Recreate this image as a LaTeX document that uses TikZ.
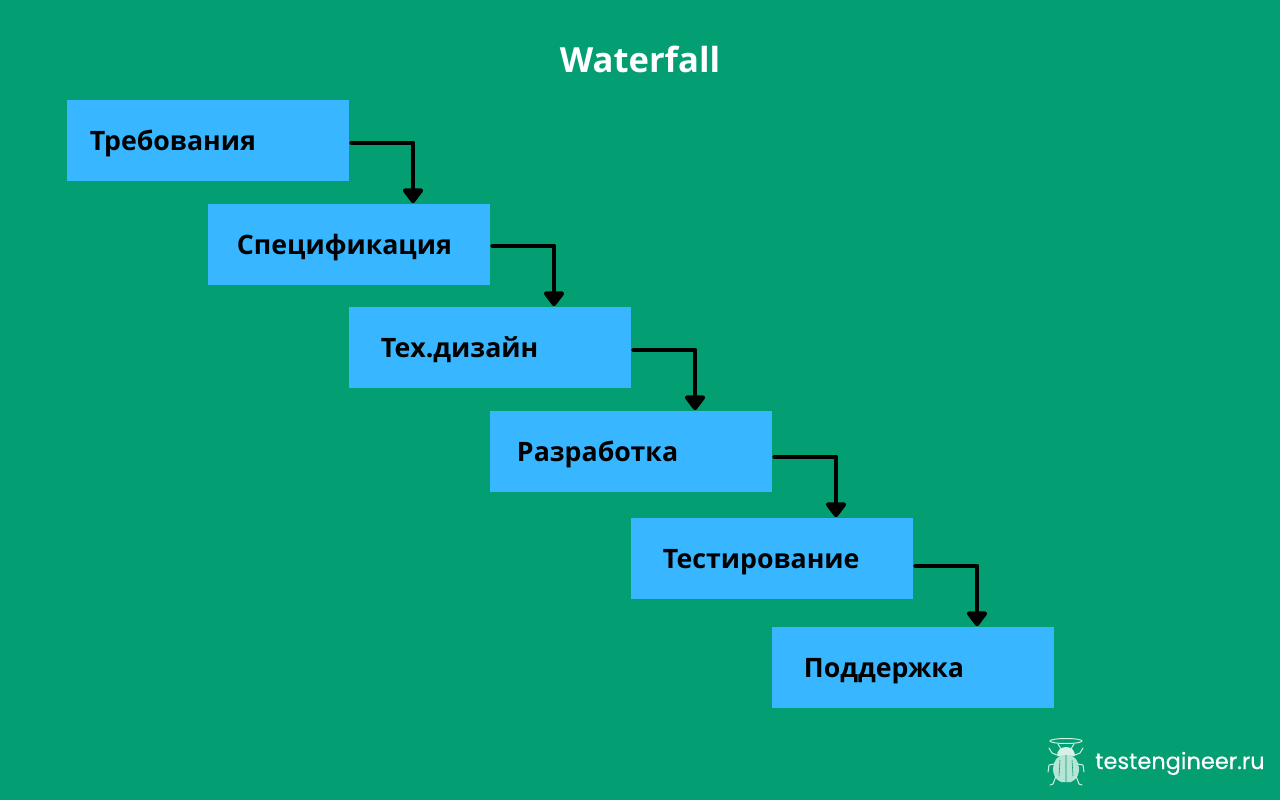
\documentclass[tikz,border=0pt]{standalone}
\usepackage{fontspec}
\setmainfont{Open Sans}
\newfontfamily\logofont[FakeBold=0.25]{Poppins}
\usepackage{xcolor}
\definecolor{bggreen}{HTML}{049E73}
\definecolor{boxblue}{HTML}{38B6FF}
\definecolor{bugtint}{HTML}{D5F0E6}
\usetikzlibrary{arrows.meta}

\begin{document}
\begin{tikzpicture}[
  x=0.025cm, y=-0.025cm,
  stage/.style={fill=boxblue, text=black, inner xsep=0pt, inner ysep=0pt,
    text width=7.05cm, minimum height=2.025cm, align=left,
    text height=14.5pt, text depth=0pt,
    font=\fontsize{19}{23}\selectfont\bfseries},
  arr/.style={line width=3.5pt, line cap=round, line join=round,
    -{Triangle[round,width=16.5pt,length=11.5pt]}},
  bugline/.style={draw=bugtint, line width=0.7pt, line cap=round}
]
\fill[bggreen] (0,0) rectangle (1280,800);

\node[font=\fontsize{24.6}{30}\selectfont\bfseries, text=white] (title) at (640,59.5) {Waterfall};

\node[stage] (req)  at (208,140.5) {\hspace*{0.575cm}Требования};
\node[stage] (spec) at (349,244.5) {\hspace*{0.725cm}Спецификация};
\node[stage] (tech) at (490,347.5) {\hspace*{0.8cm}Тех.дизайн};
\node[stage] (dev)  at (631,451.5) {\hspace*{0.675cm}Разработка};
\node[stage] (test) at (772,558.5) {\hspace*{0.8cm}Тестирование};
\node[stage] (supp) at (913,667.5) {\hspace*{0.8cm}Поддержка};

\draw[arr] ([shift={(2.5,2.5)}]req.east) -| ([shift={(64,-0.5)}]spec.north);
\draw[arr] ([shift={(2.5,1.5)}]spec.east) -| ([shift={(64,-0.5)}]tech.north);
\draw[arr] ([shift={(2.5,2.5)}]tech.east) -| ([shift={(64,-0.5)}]dev.north);
\draw[arr] ([shift={(2.5,5.5)}]dev.east) -| ([shift={(64,-0.5)}]test.north);
\draw[arr] ([shift={(2.5,7.5)}]test.east) -| ([shift={(64,-0.5)}]supp.north);

% logo
\draw[bugline] (1066,741) ellipse (16 and 2.5);
\draw[bugline] (1061,749) -- (1058,744) (1071,749) -- (1074,744);
\fill[bugtint] (1066,747) .. controls (1060,747) and (1057,751) .. (1057,756)
  -- (1075,756) .. controls (1075,751) and (1072,747) .. (1066,747);
\fill[bugtint!85!bggreen] (1066,755) .. controls (1057,754) and (1053,762) .. (1053,769)
  .. controls (1053,778) and (1060,784) .. (1065.5,782) -- (1066.5,782)
  .. controls (1072,784) and (1079,778) .. (1079,769)
  .. controls (1079,762) and (1075,754) .. (1066,755);
\draw[bggreen, line width=0.4pt] (1066,755) -- (1066,782)
  (1060,760) -- (1059,776) (1072,760) -- (1073,776);
\draw[bugline] (1057,755) -- (1052,753) -- (1049,748) (1075,755) -- (1080,753) -- (1083,748);
\draw[bugline] (1054,764) -- (1049,765) -- (1048,772) (1078,764) -- (1083,765) -- (1084,772);
\draw[bugline] (1056,776) -- (1053,784) -- (1050,785) (1076,776) -- (1079,784) -- (1082,785);
\node[font=\fontsize{16}{18}\selectfont\logofont, text=white, anchor=base west, inner sep=0pt] (logo) at (1095,769) {testengineer.ru};
\end{tikzpicture}
\end{document}
